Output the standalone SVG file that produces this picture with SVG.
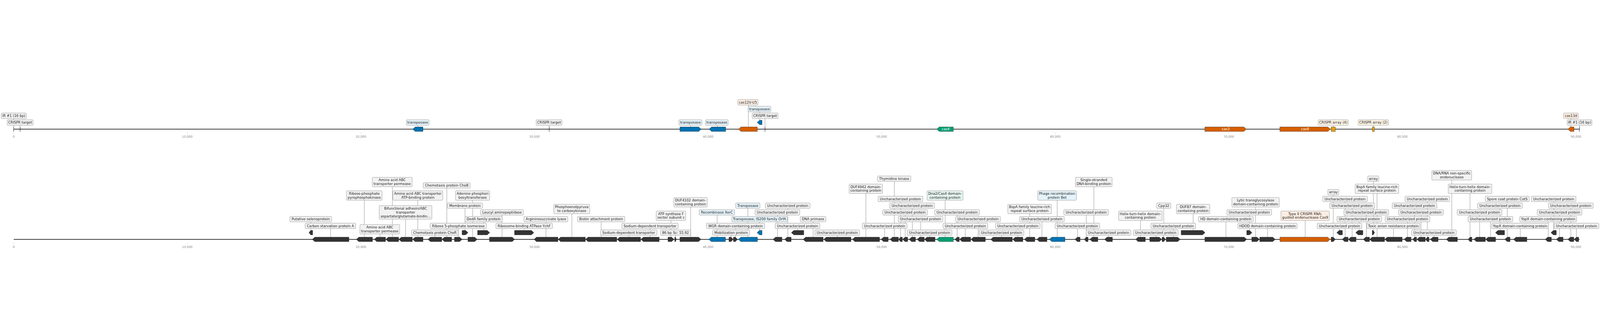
<svg xmlns="http://www.w3.org/2000/svg" width="7126" height="813" viewBox="0 0 7126 813">
<style>
svg:root{width:100vw;height:100vh}
.bg{fill:#ffffff}
.ax{stroke:#000;stroke-width:2.6;fill:none}
.tk{stroke:#999;stroke-width:1}
.tl{font-family:"DejaVu Sans","Liberation Sans",sans-serif;font-size:13.4px;fill:#8a8a8a;text-anchor:middle}
.ld{stroke:#474747;stroke-width:1;fill:none}
.mk{stroke:#000;stroke-width:1.6;fill:none}
.bx{fill:#f2f2f2;stroke:#8c8c8c;stroke-width:1.4;rx:3px;ry:3px}
.bb{fill:#e5f3fa}
.bo{fill:#fdeee3}
.bm{fill:#e6f6f1}
.by{fill:#fdf5e6}
.t{font-family:"DejaVu Sans","Liberation Sans",sans-serif;font-size:15.2px;fill:#1a1a1a;text-anchor:middle}
.tw{font-family:"DejaVu Sans","Liberation Sans",sans-serif;font-size:15.2px;fill:#ffffff;text-anchor:middle}
.gd{fill:#333333;stroke:#111;stroke-width:1}
.gb{fill:#0072b2;stroke:#1a1a1a;stroke-width:1}
.go{fill:#d55e00;stroke:#1a1a1a;stroke-width:1}
.gg{fill:#009e73;stroke:#1a1a1a;stroke-width:1}
.gy{fill:#e69f00;stroke:#1a1a1a;stroke-width:1}
</style>
<rect class="bg" x="0" y="0" width="7126" height="813"/>

<g id="axes">
<line class="ax" x1="61" y1="274" x2="7035" y2="274"/>
<line class="ax" x1="61" y1="764" x2="7035" y2="764"/>
<g id="ticks-top">
<line class="tk" x1="61.1" y1="289" x2="61.1" y2="294"/><text class="tl" x="61.1" y="312">0</text>
<line class="tk" x1="834.2" y1="289" x2="834.2" y2="294"/><text class="tl" x="834.2" y="312">10,000</text>
<line class="tk" x1="1607.3" y1="289" x2="1607.3" y2="294"/><text class="tl" x="1607.3" y="312">20,000</text>
<line class="tk" x1="2380.4" y1="289" x2="2380.4" y2="294"/><text class="tl" x="2380.4" y="312">30,000</text>
<line class="tk" x1="3153.5" y1="289" x2="3153.5" y2="294"/><text class="tl" x="3153.5" y="312">40,000</text>
<line class="tk" x1="3926.6" y1="289" x2="3926.6" y2="294"/><text class="tl" x="3926.6" y="312">50,000</text>
<line class="tk" x1="4699.7" y1="289" x2="4699.7" y2="294"/><text class="tl" x="4699.7" y="312">60,000</text>
<line class="tk" x1="5472.8" y1="289" x2="5472.8" y2="294"/><text class="tl" x="5472.8" y="312">70,000</text>
<line class="tk" x1="6245.9" y1="289" x2="6245.9" y2="294"/><text class="tl" x="6245.9" y="312">80,000</text>
<line class="tk" x1="7019" y1="289" x2="7019" y2="294"/><text class="tl" x="7019" y="312">90,000</text>
</g>
<g id="ticks-bottom">
<line class="tk" x1="61.1" y1="779" x2="61.1" y2="784"/><text class="tl" x="61.1" y="802">0</text>
<line class="tk" x1="834.2" y1="779" x2="834.2" y2="784"/><text class="tl" x="834.2" y="802">10,000</text>
<line class="tk" x1="1607.3" y1="779" x2="1607.3" y2="784"/><text class="tl" x="1607.3" y="802">20,000</text>
<line class="tk" x1="2380.4" y1="779" x2="2380.4" y2="784"/><text class="tl" x="2380.4" y="802">30,000</text>
<line class="tk" x1="3153.5" y1="779" x2="3153.5" y2="784"/><text class="tl" x="3153.5" y="802">40,000</text>
<line class="tk" x1="3926.6" y1="779" x2="3926.6" y2="784"/><text class="tl" x="3926.6" y="802">50,000</text>
<line class="tk" x1="4699.7" y1="779" x2="4699.7" y2="784"/><text class="tl" x="4699.7" y="802">60,000</text>
<line class="tk" x1="5472.8" y1="779" x2="5472.8" y2="784"/><text class="tl" x="5472.8" y="802">70,000</text>
<line class="tk" x1="6245.9" y1="779" x2="6245.9" y2="784"/><text class="tl" x="6245.9" y="802">80,000</text>
<line class="tk" x1="7019" y1="779" x2="7019" y2="784"/><text class="tl" x="7019" y="802">90,000</text>
</g>
</g>

<g id="connectors">
<line class="ld" x1="61" y1="226.5" x2="61" y2="264"/>
<line class="ld" x1="89.5" y1="256.5" x2="89.5" y2="264"/>
<line class="ld" x1="1861" y1="256.5" x2="1861" y2="264"/>
<line class="ld" x1="2446" y1="256.5" x2="2446" y2="264"/>
<line class="ld" x1="3075.5" y1="256.5" x2="3075.5" y2="264"/>
<line class="ld" x1="3195" y1="256.5" x2="3195" y2="264"/>
<line class="ld" x1="3333" y1="166.5" x2="3333" y2="264"/>
<line class="ld" x1="3383.5" y1="196.5" x2="3383.5" y2="234"/>
<line class="ld" x1="3407" y1="226.5" x2="3407" y2="264"/>
<line class="ld" x1="5938" y1="256.5" x2="5938" y2="264"/>
<line class="ld" x1="6116.5" y1="256.5" x2="6116.5" y2="264"/>
<line class="ld" x1="6996.5" y1="226.5" x2="6996.5" y2="264"/>
<line class="ld" x1="7034.5" y1="256.5" x2="7034.5" y2="264"/>
<line class="ld" x1="1384.4" y1="686" x2="1384.4" y2="724"/>
<line class="ld" x1="1472.4" y1="716" x2="1472.4" y2="754"/>
<line class="ld" x1="1622.6" y1="590" x2="1622.6" y2="754"/>
<line class="ld" x1="1692.4" y1="740" x2="1692.4" y2="754"/>
<line class="ld" x1="1747.4" y1="530" x2="1747.4" y2="754"/>
<line class="ld" x1="1806.3" y1="674" x2="1806.3" y2="754"/>
<line class="ld" x1="1860.8" y1="590" x2="1860.8" y2="754"/>
<line class="ld" x1="1937" y1="746" x2="1937" y2="754"/>
<line class="ld" x1="1990" y1="536" x2="1990" y2="754"/>
<line class="ld" x1="2041.5" y1="716" x2="2041.5" y2="754"/>
<line class="ld" x1="2071" y1="626" x2="2071" y2="724"/>
<line class="ld" x1="2105" y1="590" x2="2105" y2="754"/>
<line class="ld" x1="2154.5" y1="686" x2="2154.5" y2="724"/>
<line class="ld" x1="2236" y1="656" x2="2236" y2="754"/>
<line class="ld" x1="2334.5" y1="716" x2="2334.5" y2="724"/>
<line class="ld" x1="2431.5" y1="686" x2="2431.5" y2="754"/>
<line class="ld" x1="2547" y1="650" x2="2547" y2="754"/>
<line class="ld" x1="2677.5" y1="686" x2="2677.5" y2="754"/>
<line class="ld" x1="2801" y1="746" x2="2801" y2="754"/>
<line class="ld" x1="2895.5" y1="716" x2="2895.5" y2="754"/>
<line class="ld" x1="2988.5" y1="680" x2="2988.5" y2="754"/>
<line class="ld" x1="3009" y1="746" x2="3009" y2="754"/>
<line class="ld" x1="3076" y1="620" x2="3076" y2="754"/>
<line class="ld" x1="3194" y1="656" x2="3194" y2="754"/>
<line class="ld" x1="3256" y1="746" x2="3256" y2="754"/>
<line class="ld" x1="3276" y1="716" x2="3276" y2="754"/>
<line class="ld" x1="3331" y1="626" x2="3331" y2="754"/>
<line class="ld" x1="3383" y1="686" x2="3383" y2="724"/>
<line class="ld" x1="3463" y1="656" x2="3463" y2="754"/>
<line class="ld" x1="3509" y1="626" x2="3509" y2="754"/>
<line class="ld" x1="3552" y1="716" x2="3552" y2="724"/>
<line class="ld" x1="3621.5" y1="686" x2="3621.5" y2="754"/>
<line class="ld" x1="3729.5" y1="746" x2="3729.5" y2="754"/>
<line class="ld" x1="3856.5" y1="560" x2="3856.5" y2="754"/>
<line class="ld" x1="3940" y1="716" x2="3940" y2="754"/>
<line class="ld" x1="3983" y1="506" x2="3983" y2="754"/>
<line class="ld" x1="4011" y1="596" x2="4011" y2="754"/>
<line class="ld" x1="4031.5" y1="656" x2="4031.5" y2="754"/>
<line class="ld" x1="4063.5" y1="626" x2="4063.5" y2="754"/>
<line class="ld" x1="4100.5" y1="686" x2="4100.5" y2="754"/>
<line class="ld" x1="4141" y1="746" x2="4141" y2="754"/>
<line class="ld" x1="4209.5" y1="590" x2="4209.5" y2="754"/>
<line class="ld" x1="4263" y1="656" x2="4263" y2="754"/>
<line class="ld" x1="4299" y1="716" x2="4299" y2="754"/>
<line class="ld" x1="4356.5" y1="686" x2="4356.5" y2="754"/>
<line class="ld" x1="4460.5" y1="746" x2="4460.5" y2="754"/>
<line class="ld" x1="4533" y1="716" x2="4533" y2="754"/>
<line class="ld" x1="4586" y1="650" x2="4586" y2="754"/>
<line class="ld" x1="4640.5" y1="686" x2="4640.5" y2="754"/>
<line class="ld" x1="4708.5" y1="590" x2="4708.5" y2="754"/>
<line class="ld" x1="4799" y1="716" x2="4799" y2="754"/>
<line class="ld" x1="4838" y1="656" x2="4838" y2="754"/>
<line class="ld" x1="4872" y1="530" x2="4872" y2="754"/>
<line class="ld" x1="4937" y1="746" x2="4937" y2="754"/>
<line class="ld" x1="5079.5" y1="680" x2="5079.5" y2="754"/>
<line class="ld" x1="5148" y1="746" x2="5148" y2="754"/>
<line class="ld" x1="5183" y1="626" x2="5183" y2="754"/>
<line class="ld" x1="5226" y1="716" x2="5226" y2="754"/>
<line class="ld" x1="5314" y1="650" x2="5314" y2="724"/>
<line class="ld" x1="5460" y1="686" x2="5460" y2="754"/>
<line class="ld" x1="5564.5" y1="656" x2="5564.5" y2="724"/>
<line class="ld" x1="5592" y1="620" x2="5592" y2="754"/>
<line class="ld" x1="5645.5" y1="716" x2="5645.5" y2="754"/>
<line class="ld" x1="5813" y1="680" x2="5813" y2="754"/>
<line class="ld" x1="5938" y1="566" x2="5938" y2="754"/>
<line class="ld" x1="5966" y1="716" x2="5966" y2="724"/>
<line class="ld" x1="5991" y1="596" x2="5991" y2="754"/>
<line class="ld" x1="6022" y1="626" x2="6022" y2="754"/>
<line class="ld" x1="6054.5" y1="686" x2="6054.5" y2="724"/>
<line class="ld" x1="6085.5" y1="656" x2="6085.5" y2="754"/>
<line class="ld" x1="6117" y1="506" x2="6117" y2="724"/>
<line class="ld" x1="6133" y1="560" x2="6133" y2="754"/>
<line class="ld" x1="6206" y1="716" x2="6206" y2="754"/>
<line class="ld" x1="6269" y1="686" x2="6269" y2="754"/>
<line class="ld" x1="6300.5" y1="626" x2="6300.5" y2="754"/>
<line class="ld" x1="6329" y1="656" x2="6329" y2="754"/>
<line class="ld" x1="6357" y1="596" x2="6357" y2="754"/>
<line class="ld" x1="6387.5" y1="746" x2="6387.5" y2="754"/>
<line class="ld" x1="6466" y1="500" x2="6466" y2="754"/>
<line class="ld" x1="6547" y1="560" x2="6547" y2="754"/>
<line class="ld" x1="6590" y1="656" x2="6590" y2="754"/>
<line class="ld" x1="6638.5" y1="686" x2="6638.5" y2="754"/>
<line class="ld" x1="6681" y1="626" x2="6681" y2="724"/>
<line class="ld" x1="6713" y1="596" x2="6713" y2="754"/>
<line class="ld" x1="6771" y1="716" x2="6771" y2="754"/>
<line class="ld" x1="6895.5" y1="686" x2="6895.5" y2="754"/>
<line class="ld" x1="6920" y1="596" x2="6920" y2="724"/>
<line class="ld" x1="6946" y1="656" x2="6946" y2="754"/>
<line class="ld" x1="6996" y1="626" x2="6996" y2="754"/>
<line class="ld" x1="7021" y1="716" x2="7021" y2="754"/>
</g>

<g id="top-ir-1"><line class="mk" x1="61" y1="263" x2="61" y2="285"/><rect class="bx" x="5.7" y="202" width="111.3" height="24.5"/><text class="t" x="61.3" y="219.5">IR #1 (16 bp)</text></g>
<g id="top-crispr-target-1"><line class="mk" x1="89.5" y1="263" x2="89.5" y2="285"/><rect class="bx" x="32" y="232" width="115" height="24.5"/><text class="t" x="89.5" y="249.5">CRISPR target</text></g>
<g id="top-transposase-1"><polygon class="gb" points="1838,274 1849,264 1884,264 1884,284 1849,284"/><rect class="bx bb" x="1810" y="232" width="101" height="24.5"/><text class="t" x="1860.5" y="249.5">transposase</text></g>
<g id="top-crispr-target-2"><line class="mk" x1="2446" y1="263" x2="2446" y2="285"/><rect class="bx" x="2388" y="232" width="115" height="24.5"/><text class="t" x="2445.5" y="249.5">CRISPR target</text></g>
<g id="top-transposase-2"><polygon class="gb" points="3028,264 3112,264 3123,274 3112,284 3028,284"/><rect class="bx bb" x="3024" y="232" width="102" height="24.5"/><text class="t" x="3075" y="249.5">transposase</text></g>
<g id="top-transposase-3"><polygon class="gb" points="3158,274 3169,264 3232,264 3232,284 3169,284"/><rect class="bx bb" x="3142" y="232" width="101" height="24.5"/><text class="t" x="3192.5" y="249.5">transposase</text></g>
<g id="top-cas12v-u5"><polygon class="go" points="3289,274 3300,264 3373,264 3373,284 3300,284"/><rect class="bx bo" x="3286" y="142" width="90" height="24.5"/><text class="t" x="3331" y="159.5">cas12V-U5</text></g>
<g id="top-transposase-4"><polygon class="gb" points="3372,244 3383,234 3394,234 3394,254 3383,254"/><rect class="bx bb" x="3332" y="172" width="101" height="24.5"/><text class="t" x="3382.5" y="189.5">transposase</text></g>
<g id="top-crispr-target-3"><line class="mk" x1="3407" y1="263" x2="3407" y2="285"/><rect class="bx" x="3350" y="202" width="115" height="24.5"/><text class="t" x="3407.5" y="219.5">CRISPR target</text></g>
<g id="top-cas4"><polygon class="gg" points="4172,274 4183,264 4246,264 4246,284 4183,284"/><text class="tw" x="4212" y="279.5">cas4</text></g>
<g id="top-cas3"><polygon class="go" points="5366,264 5540,264 5551,274 5540,284 5366,284"/><text class="tw" x="5459" y="279.5">cas3</text></g>
<g id="top-cas9"><polygon class="go" points="5700,264 5914,264 5925,274 5914,284 5700,284"/><text class="tw" x="5812.5" y="279.5">cas9</text></g>
<g id="top-crispr-array-4"><rect class="gy" x="5929" y="264" width="18" height="20"/><rect class="bx by" x="5871" y="232" width="134" height="24.5"/><text class="t" x="5938" y="249.5">CRISPR array (4)</text></g>
<g id="top-crispr-array-2"><rect class="gy" x="6112" y="264" width="9" height="20"/><rect class="bx by" x="6049" y="232" width="135" height="24.5"/><text class="t" x="6116.5" y="249.5">CRISPR array (2)</text></g>
<g id="top-cas13d"><polygon class="go" points="6983,274 6994,264 7010,264 7010,284 6994,284"/><rect class="bx bo" x="6964" y="202" width="65" height="24.5"/><text class="t" x="6996.5" y="219.5">cas13d</text></g>
<g id="top-ir-2"><line class="mk" x1="7034.5" y1="263" x2="7034.5" y2="285"/><rect class="bx" x="6980" y="232" width="110" height="24.5"/><text class="t" x="7035" y="249.5">IR #1 (16 bp)</text></g>

<g id="b-selenoprotein"><polygon class="gd" points="1376,734 1384,724 1392.5,724 1392.5,744 1384,744"/><rect class="bx" x="1291" y="662" width="186" height="24"/><text class="t" x="1384" y="679.5">Putative selenoprotein</text></g>
<g id="b-carbon-starvation"><polygon class="gd" points="1391,764 1402,754 1554,754 1554,774 1402,774"/><rect class="bx" x="1359" y="692" width="225.3" height="24"/><text class="t" x="1471.7" y="709.5">Carbon starvation protein A</text></g>
<g id="b-ribose-phosphate-ppk"><polygon class="gd" points="1587,764 1598,754 1659,754 1659,774 1598,774"/><rect class="bx" x="1543" y="548" width="158.5" height="42"/><text class="t" x="1622.3" y="565.5">Ribose-phosphate</text><text class="t" x="1622.3" y="582.5">pyrophosphokinase</text></g>
<g id="b-aa-permease-1"><polygon class="gd" points="1667,764 1678,754 1717,754 1717,774 1678,774"/><rect class="bx" x="1603" y="698" width="177" height="42"/><text class="t" x="1691.5" y="715.5">Amino acid ABC</text><text class="t" x="1691.5" y="732.5">transporter permease</text></g>
<g id="b-aa-permease-2"><polygon class="gd" points="1718.5,764 1729.5,754 1775.5,754 1775.5,774 1729.5,774"/><rect class="bx" x="1658" y="488" width="177.5" height="42"/><text class="t" x="1746.7" y="505.5">Amino acid ABC</text><text class="t" x="1746.7" y="522.5">transporter permease</text></g>
<g id="b-bifunctional"><polygon class="gd" points="1776.5,764 1787.5,754 1836.5,754 1836.5,774 1787.5,774"/><rect class="bx" x="1689" y="614" width="234.5" height="60"/><text class="t" x="1806.3" y="631.5">Bifunctional adhesin/ABC</text><text class="t" x="1806.3" y="649">transporter</text><text class="t" x="1806.3" y="666.5">aspartate/glutamate-bindin...</text></g>
<g id="b-aa-atp-binding"><polygon class="gd" points="1838,764 1849,754 1884,754 1884,774 1849,774"/><rect class="bx" x="1750" y="548" width="222" height="42"/><text class="t" x="1861" y="565.5">Amino acid ABC transporter</text><text class="t" x="1861" y="582.5">ATP-binding protein</text></g>
<g id="b-cher"><polygon class="gd" points="1906,764 1917,754 1967.5,754 1967.5,774 1917,774"/><rect class="bx" x="1832.5" y="722" width="208.5" height="24"/><text class="t" x="1936.8" y="739.5">Chemotaxis protein CheR</text></g>
<g id="b-cheb"><polygon class="gd" points="1968.5,764 1979.5,754 2011.5,754 2011.5,774 1979.5,774"/><rect class="bx" x="1885" y="512" width="209" height="24"/><text class="t" x="1989.5" y="529.5">Chemotaxis protein CheB</text></g>
<g id="b-ribose5p"><polygon class="gd" points="2024,754 2047,754 2058,764 2047,774 2024,774"/><rect class="bx" x="1916" y="692" width="250.5" height="24"/><text class="t" x="2041.3" y="709.5">Ribose 5-phosphate isomerase</text></g>
<g id="b-membrane"><polygon class="gd" points="2058,724 2073.5,724 2084.5,734 2073.5,744 2058,744"/><rect class="bx" x="1992.5" y="602" width="156.5" height="24"/><text class="t" x="2070.8" y="619.5">Membrane protein</text></g>
<g id="b-adenine"><polygon class="gd" points="2084,754 2114,754 2125,764 2114,774 2084,774"/><rect class="bx" x="2028.5" y="548" width="152.5" height="42"/><text class="t" x="2104.8" y="565.5">Adenine phosphori</text><text class="t" x="2104.8" y="582.5">bosyltransferase</text></g>
<g id="b-deda"><polygon class="gd" points="2127,724 2170,724 2181,734 2170,744 2127,744"/><rect class="bx" x="2071" y="662" width="166" height="24"/><text class="t" x="2154" y="679.5">DedA family protein</text></g>
<g id="b-leucyl"><polygon class="gd" points="2180,754 2281,754 2292,764 2281,774 2180,774"/><rect class="bx" x="2140.5" y="632" width="191" height="24"/><text class="t" x="2236" y="649.5">Leucyl aminopeptidase</text></g>
<g id="b-ychf"><polygon class="gd" points="2291.5,724 2366.5,724 2377.5,734 2366.5,744 2291.5,744"/><rect class="bx" x="2208.5" y="692" width="252" height="24"/><text class="t" x="2334.5" y="709.5">Ribosome-binding ATPase YchF</text></g>
<g id="b-argininosuccinate"><polygon class="gd" points="2378.5,764 2389.5,754 2485,754 2485,774 2389.5,774"/><rect class="bx" x="2333.5" y="662" width="195.5" height="24"/><text class="t" x="2431.3" y="679.5">Argininosuccinate lyase</text></g>
<g id="b-pepck"><polygon class="gd" points="2486,764 2497,754 2607,754 2607,774 2497,774"/><rect class="bx" x="2466.5" y="608" width="160" height="42"/><text class="t" x="2546.5" y="625.5">Phosphoenolpyruva</text><text class="t" x="2546.5" y="642.5">te carboxykinase</text></g>
<g id="b-biotin"><polygon class="gd" points="2608,764 2619,754 2747,754 2747,774 2619,774"/><rect class="bx" x="2572" y="662" width="210.5" height="24"/><text class="t" x="2677.3" y="679.5">Biotin attachment protein</text></g>
<g id="b-sodium-1"><polygon class="gd" points="2748.5,764 2759.5,754 2853,754 2853,774 2759.5,774"/><rect class="bx" x="2674.5" y="722" width="251.5" height="24"/><text class="t" x="2800.3" y="739.5">Sodium-dependent transporter</text></g>
<g id="b-sodium-2"><polygon class="gd" points="2854.5,764 2865.5,754 2936,754 2936,774 2865.5,774"/><rect class="bx" x="2769.5" y="692" width="251" height="24"/><text class="t" x="2895" y="709.5">Sodium-dependent transporter</text></g>
<g id="b-atp-synthase"><polygon class="gd" points="2975,754 2991,754 3002,764 2991,774 2975,774"/><rect class="bx" x="2922.5" y="638" width="131.5" height="42"/><text class="t" x="2988.3" y="655.5">ATP synthase F</text><text class="t" x="2988.3" y="672.5">sector subunit c</text></g>
<g id="b-86bp"><polygon class="gd" points="3005,754 3008.5,754 3012.5,764 3008.5,774 3005,774"/><rect class="bx" x="2941.5" y="722" width="134" height="24"/><text class="t" x="3008.5" y="739.5">86 bp Sc: 55.92</text></g>
<g id="b-duf4102"><polygon class="gd" points="3028,754 3111,754 3122,764 3111,774 3028,774"/><rect class="bx" x="3001" y="578" width="149" height="42"/><text class="t" x="3075.5" y="595.5">DUF4102 domain-</text><text class="t" x="3075.5" y="612.5">containing protein</text></g>
<g id="b-xerc"><polygon class="gb" points="3157,764 3168,754 3231,754 3231,774 3168,774"/><rect class="bx bb" x="3114" y="632" width="158" height="24"/><text class="t" x="3193" y="649.5">Recombinase XerC</text></g>
<g id="b-mobilization"><polygon class="gd" points="3246.5,754 3256,754 3265.5,764 3256,774 3246.5,774"/><rect class="bx" x="3174" y="722" width="164.5" height="24"/><text class="t" x="3256.3" y="739.5">Mobilization protein</text></g>
<g id="b-wgr"><polygon class="gd" points="3266.5,754 3275.5,754 3284.5,764 3275.5,774 3266.5,774"/><rect class="bx" x="3146.5" y="692" width="259" height="24"/><text class="t" x="3276" y="709.5">WGR domain-containing protein</text></g>
<g id="b-transposase"><polygon class="gb" points="3288.5,764 3299.5,754 3373.5,754 3373.5,774 3299.5,774"/><rect class="bx bb" x="3276.5" y="602" width="108" height="24"/><text class="t" x="3330.5" y="619.5">Transposase</text></g>
<g id="b-is200"><polygon class="gb" points="3371.5,734 3382.5,724 3394,724 3394,744 3382.5,744"/><rect class="bx bb" x="3259" y="662" width="247" height="24"/><text class="t" x="3382.5" y="679.5">Transposase, IS200 family OrfA</text></g>
<g id="b-unch-01"><polygon class="gd" points="3443,764 3454,754 3482.5,754 3482.5,774 3454,774"/><rect class="bx" x="3363" y="632" width="199" height="24"/><text class="t" x="3462.5" y="649.5">Uncharacterized protein</text></g>
<g id="b-unch-02"><polygon class="gd" points="3494.5,764 3505.5,754 3523.5,754 3523.5,774 3505.5,774"/><rect class="bx" x="3409" y="602" width="199" height="24"/><text class="t" x="3508.5" y="619.5">Uncharacterized protein</text></g>
<g id="b-unch-03"><polygon class="gd" points="3524.5,734 3535.5,724 3580,724 3580,744 3535.5,744"/><rect class="bx" x="3452.5" y="692" width="199" height="24"/><text class="t" x="3552" y="709.5">Uncharacterized protein</text></g>
<g id="b-dna-primase"><polygon class="gd" points="3577,764 3588,754 3666,754 3666,774 3588,774"/><rect class="bx" x="3564" y="662" width="114" height="24"/><text class="t" x="3621" y="679.5">DNA primase</text></g>
<g id="b-unch-04"><polygon class="gd" points="3669,764 3680,754 3790,754 3790,774 3680,774"/><rect class="bx" x="3629.5" y="722" width="199" height="24"/><text class="t" x="3729" y="739.5">Uncharacterized protein</text></g>
<g id="b-duf4942"><polygon class="gd" points="3796.5,764 3807.5,754 3917.5,754 3917.5,774 3807.5,774"/><rect class="bx" x="3782" y="518" width="148.5" height="42"/><text class="t" x="3856.3" y="535.5">DUF4942 domain-</text><text class="t" x="3856.3" y="552.5">containing protein</text></g>
<g id="b-unch-05"><polygon class="gd" points="3924,764 3935,754 3956,754 3956,774 3935,774"/><rect class="bx" x="3840.5" y="692" width="199" height="24"/><text class="t" x="3940" y="709.5">Uncharacterized protein</text></g>
<g id="b-thymidine-kinase"><polygon class="gd" points="3964,764 3975,754 4001.5,754 4001.5,774 3975,774"/><rect class="bx" x="3908" y="482" width="148.5" height="24"/><text class="t" x="3982.3" y="499.5">Thymidine kinase</text></g>
<g id="b-unch-06"><polygon class="gd" points="4002.5,764 4010.5,754 4019,754 4019,774 4010.5,774"/><rect class="bx" x="3911" y="572" width="199" height="24"/><text class="t" x="4010.5" y="589.5">Uncharacterized protein</text></g>
<g id="b-unch-07"><polygon class="gd" points="4020,764 4031,754 4042.5,754 4042.5,774 4031,774"/><rect class="bx" x="3931.5" y="632" width="199" height="24"/><text class="t" x="4031" y="649.5">Uncharacterized protein</text></g>
<g id="b-unch-08"><polygon class="gd" points="4049,764 4060,754 4077.5,754 4077.5,774 4060,774"/><rect class="bx" x="3963" y="602" width="199" height="24"/><text class="t" x="4062.5" y="619.5">Uncharacterized protein</text></g>
<g id="b-unch-09"><polygon class="gd" points="4084.5,764 4095.5,754 4116.5,754 4116.5,774 4095.5,774"/><rect class="bx" x="4000.5" y="662" width="199" height="24"/><text class="t" x="4100" y="679.5">Uncharacterized protein</text></g>
<g id="b-unch-10"><polygon class="gd" points="4117.5,764 4128.5,754 4164.5,754 4164.5,774 4128.5,774"/><rect class="bx" x="4041" y="722" width="199" height="24"/><text class="t" x="4140.5" y="739.5">Uncharacterized protein</text></g>
<g id="b-dna2-cas4"><polygon class="gg" points="4172,764 4183,754 4246,754 4246,774 4183,774"/><rect class="bx bm" x="4129" y="548" width="160" height="42"/><text class="t" x="4209" y="565.5">Dna2/Cas4 domain-</text><text class="t" x="4209" y="582.5">containing protein</text></g>
<g id="b-unch-11"><polygon class="gd" points="4253,764 4263,754 4272.5,754 4272.5,774 4263,774"/><rect class="bx" x="4163" y="632" width="199" height="24"/><text class="t" x="4262.5" y="649.5">Uncharacterized protein</text></g>
<g id="b-unch-12"><polygon class="gd" points="4274,764 4285,754 4323,754 4323,774 4285,774"/><rect class="bx" x="4200" y="692" width="199" height="24"/><text class="t" x="4299.5" y="709.5">Uncharacterized protein</text></g>
<g id="b-unch-13"><polygon class="gd" points="4324.5,764 4335.5,754 4388.5,754 4388.5,774 4335.5,774"/><rect class="bx" x="4256.5" y="662" width="199" height="24"/><text class="t" x="4356" y="679.5">Uncharacterized protein</text></g>
<g id="b-unch-14"><polygon class="gd" points="4412.5,764 4423.5,754 4508.5,754 4508.5,774 4423.5,774"/><rect class="bx" x="4361" y="722" width="199" height="24"/><text class="t" x="4460.5" y="739.5">Uncharacterized protein</text></g>
<g id="b-unch-15"><polygon class="gd" points="4510.5,764 4521.5,754 4555.5,754 4555.5,774 4521.5,774"/><rect class="bx" x="4433.5" y="692" width="199" height="24"/><text class="t" x="4533" y="709.5">Uncharacterized protein</text></g>
<g id="b-bspa-1"><polygon class="gd" points="4562.5,764 4573.5,754 4609,754 4609,774 4573.5,774"/><rect class="bx" x="4488.5" y="608" width="194" height="42"/><text class="t" x="4585.5" y="625.5">BspA family leucine-rich</text><text class="t" x="4585.5" y="642.5">repeat surface protein</text></g>
<g id="b-unch-16"><polygon class="gd" points="4618,764 4629,754 4663,754 4663,774 4629,774"/><rect class="bx" x="4541" y="662" width="199" height="24"/><text class="t" x="4640.5" y="679.5">Uncharacterized protein</text></g>
<g id="b-phage-bet"><polygon class="gb" points="4673.5,764 4684.5,754 4743,754 4743,774 4684.5,774"/><rect class="bx bb" x="4622" y="548" width="172" height="42"/><text class="t" x="4708" y="565.5">Phage recombination</text><text class="t" x="4708" y="582.5">protein Bet</text></g>
<g id="b-unch-17"><polygon class="gd" points="4787.5,764 4798.5,754 4810.5,754 4810.5,774 4798.5,774"/><rect class="bx" x="4699" y="692" width="199" height="24"/><text class="t" x="4798.5" y="709.5">Uncharacterized protein</text></g>
<g id="b-unch-18"><polygon class="gd" points="4829.5,764 4837.5,754 4846,754 4846,774 4837.5,774"/><rect class="bx" x="4738" y="632" width="199" height="24"/><text class="t" x="4837.5" y="649.5">Uncharacterized protein</text></g>
<g id="b-ssb"><polygon class="gd" points="4854,764 4865,754 4889.5,754 4889.5,774 4865,774"/><rect class="bx" x="4790" y="488" width="163" height="42"/><text class="t" x="4871.5" y="505.5">Single-stranded</text><text class="t" x="4871.5" y="522.5">DNA-binding protein</text></g>
<g id="b-unch-19"><polygon class="gd" points="4919.5,764 4930.5,754 4954.5,754 4954.5,774 4930.5,774"/><rect class="bx" x="4837.5" y="722" width="199" height="24"/><text class="t" x="4937" y="739.5">Uncharacterized protein</text></g>
<g id="b-hth-1"><polygon class="gd" points="5058,764 5069,754 5101,754 5101,774 5069,774"/><rect class="bx" x="4982" y="638" width="194" height="42"/><text class="t" x="5079" y="655.5">Helix-turn-helix domain-</text><text class="t" x="5079" y="672.5">containing protein</text></g>
<g id="b-unch-20"><polygon class="gd" points="5120.5,754 5163,754 5174,764 5163,774 5120.5,774"/><rect class="bx" x="5048" y="722" width="199" height="24"/><text class="t" x="5147.5" y="739.5">Uncharacterized protein</text></g>
<g id="b-cpp32"><polygon class="gd" points="5175.5,754 5183,754 5191,764 5183,774 5175.5,774"/><rect class="bx" x="5151.5" y="602" width="63" height="24"/><text class="t" x="5183" y="619.5">Cpp32</text></g>
<g id="b-unch-21"><polygon class="gd" points="5194,754 5245,754 5256,764 5245,774 5194,774"/><rect class="bx" x="5126" y="692" width="199" height="24"/><text class="t" x="5225.5" y="709.5">Uncharacterized protein</text></g>
<g id="b-duf87"><polygon class="gd" points="5260.5,724 5356,724 5367,734 5356,744 5260.5,744"/><rect class="bx" x="5239.5" y="608" width="148.5" height="42"/><text class="t" x="5313.8" y="625.5">DUF87 domain-</text><text class="t" x="5313.8" y="642.5">containing protein</text></g>
<g id="b-hd-domain"><polygon class="gd" points="5366,754 5541.5,754 5552.5,764 5541.5,774 5366,774"/><rect class="bx" x="5337.5" y="662" width="244" height="24"/><text class="t" x="5459.5" y="679.5">HD domain-containing protein</text></g>
<g id="b-unch-22"><polygon class="gd" points="5552.5,724 5565,724 5576,734 5565,744 5552.5,744"/><rect class="bx" x="5464.5" y="632" width="199" height="24"/><text class="t" x="5564" y="649.5">Uncharacterized protein</text></g>
<g id="b-lytic"><polygon class="gd" points="5575,754 5598,754 5609,764 5598,774 5575,774"/><rect class="bx" x="5486.5" y="578" width="211" height="42"/><text class="t" x="5592" y="595.5">Lytic transglycosylase</text><text class="t" x="5592" y="612.5">domain-containing protein</text></g>
<g id="b-hdod"><polygon class="gd" points="5610.5,754 5668.5,754 5679.5,764 5668.5,774 5610.5,774"/><rect class="bx" x="5513.5" y="692" width="263.5" height="24"/><text class="t" x="5645.3" y="709.5">HDOD domain-containing protein</text></g>
<g id="b-cas9"><polygon class="go" points="5700.5,754 5913,754 5924,764 5913,774 5700.5,774"/><rect class="bx bo" x="5705" y="638" width="215.5" height="42"/><text class="t" x="5812.8" y="655.5">Type II CRISPR RNA-</text><text class="t" x="5812.8" y="672.5">guided endonuclease Cas9</text></g>
<g id="b-array-1"><polygon class="gd" points="5928.5,754 5938,754 5947,764 5938,774 5928.5,774"/><rect class="bx" x="5913.5" y="542" width="49.5" height="24"/><text class="t" x="5938.3" y="559.5">array</text></g>
<g id="b-unch-23"><polygon class="gd" points="5953.5,734 5964.5,724 5979,724 5979,744 5964.5,744"/><rect class="bx" x="5866.5" y="692" width="199" height="24"/><text class="t" x="5966" y="709.5">Uncharacterized protein</text></g>
<g id="b-unch-24"><polygon class="gd" points="5978,764 5989,754 6004,754 6004,774 5989,774"/><rect class="bx" x="5891" y="572" width="199" height="24"/><text class="t" x="5990.5" y="589.5">Uncharacterized protein</text></g>
<g id="b-unch-25"><polygon class="gd" points="6005,764 6016,754 6039.5,754 6039.5,774 6016,774"/><rect class="bx" x="5922.5" y="602" width="199" height="24"/><text class="t" x="6022" y="619.5">Uncharacterized protein</text></g>
<g id="b-unch-26"><polygon class="gd" points="6038,734 6049,724 6070,724 6070,744 6049,744"/><rect class="bx" x="5954.5" y="662" width="199" height="24"/><text class="t" x="6054" y="679.5">Uncharacterized protein</text></g>
<g id="b-unch-27"><polygon class="gd" points="6071.5,764 6082.5,754 6099.5,754 6099.5,774 6082.5,774"/><rect class="bx" x="5985.5" y="632" width="199" height="24"/><text class="t" x="6085" y="649.5">Uncharacterized protein</text></g>
<g id="b-array-2"><polygon class="gd" points="6111.5,724 6116,724 6122,734 6116,744 6111.5,744"/><rect class="bx" x="6091.5" y="482" width="49.5" height="24"/><text class="t" x="6116.3" y="499.5">array</text></g>
<g id="b-bspa-2"><polygon class="gd" points="6100,764 6111,754 6166.5,754 6166.5,774 6111,774"/><rect class="bx" x="6035.5" y="518" width="194" height="42"/><text class="t" x="6132.5" y="535.5">BspA family leucine-rich</text><text class="t" x="6132.5" y="552.5">repeat surface protein</text></g>
<g id="b-toxic-anion"><polygon class="gd" points="6167.5,764 6178.5,754 6245,754 6245,774 6178.5,774"/><rect class="bx" x="6087.5" y="692" width="236.5" height="24"/><text class="t" x="6205.8" y="709.5">Toxic anion resistance protein</text></g>
<g id="b-unch-28"><polygon class="gd" points="6253.5,764 6264.5,754 6284.5,754 6284.5,774 6264.5,774"/><rect class="bx" x="6169" y="662" width="199" height="24"/><text class="t" x="6268.5" y="679.5">Uncharacterized protein</text></g>
<g id="b-unch-29"><polygon class="gd" points="6292,764 6300.5,754 6309,754 6309,774 6300.5,774"/><rect class="bx" x="6200.5" y="602" width="199" height="24"/><text class="t" x="6300" y="619.5">Uncharacterized protein</text></g>
<g id="b-unch-30"><polygon class="gd" points="6310.5,764 6321.5,754 6348,754 6348,774 6321.5,774"/><rect class="bx" x="6229.5" y="632" width="199" height="24"/><text class="t" x="6329" y="649.5">Uncharacterized protein</text></g>
<g id="b-unch-31"><polygon class="gd" points="6349,764 6357,754 6364.5,754 6364.5,774 6357,774"/><rect class="bx" x="6257.5" y="572" width="199" height="24"/><text class="t" x="6357" y="589.5">Uncharacterized protein</text></g>
<g id="b-unch-32"><polygon class="gd" points="6370,764 6381,754 6405,754 6405,774 6381,774"/><rect class="bx" x="6287" y="722" width="199" height="24"/><text class="t" x="6386.5" y="739.5">Uncharacterized protein</text></g>
<g id="b-dna-rna-endonuclease"><polygon class="gd" points="6441.5,764 6452.5,754 6491,754 6491,774 6452.5,774"/><rect class="bx" x="6377" y="458" width="177.5" height="42"/><text class="t" x="6465.8" y="475.5">DNA/RNA non-specific</text><text class="t" x="6465.8" y="492.5">endonuclease</text></g>
<g id="b-hth-2"><polygon class="gd" points="6538.5,764 6547,754 6555.5,754 6555.5,774 6547,774"/><rect class="bx" x="6450" y="518" width="194" height="42"/><text class="t" x="6547" y="535.5">Helix-turn-helix domain-</text><text class="t" x="6547" y="552.5">containing protein</text></g>
<g id="b-unch-33"><polygon class="gd" points="6564.5,764 6575.5,754 6615.5,754 6615.5,774 6575.5,774"/><rect class="bx" x="6490" y="632" width="199" height="24"/><text class="t" x="6589.5" y="649.5">Uncharacterized protein</text></g>
<g id="b-unch-34"><polygon class="gd" points="6616.5,764 6627.5,754 6661,754 6661,774 6627.5,774"/><rect class="bx" x="6538.5" y="662" width="199" height="24"/><text class="t" x="6638" y="679.5">Uncharacterized protein</text></g>
<g id="b-unch-35"><polygon class="gd" points="6660.5,734 6671.5,724 6701,724 6701,744 6671.5,744"/><rect class="bx" x="6581" y="602" width="199" height="24"/><text class="t" x="6680.5" y="619.5">Uncharacterized protein</text></g>
<g id="b-spore-coat"><polygon class="gd" points="6702,764 6713,754 6725.5,754 6725.5,774 6713,774"/><rect class="bx" x="6615" y="572" width="196" height="24"/><text class="t" x="6713" y="589.5">Spore coat protein CotS</text></g>
<g id="b-yopx-1"><polygon class="gd" points="6741,764 6752,754 6800.5,754 6800.5,774 6752,774"/><rect class="bx" x="6644" y="692" width="253" height="24"/><text class="t" x="6770.5" y="709.5">YopX domain-containing protein</text></g>
<g id="b-yopx-2"><polygon class="gd" points="6882,764 6893,754 6909.5,754 6909.5,774 6893,774"/><rect class="bx" x="6768.5" y="662" width="253.5" height="24"/><text class="t" x="6895.3" y="679.5">YopX domain-containing protein</text></g>
<g id="b-unch-36"><polygon class="gd" points="6907.5,734 6918.5,724 6931.5,724 6931.5,744 6918.5,744"/><rect class="bx" x="6820" y="572" width="199" height="24"/><text class="t" x="6919.5" y="589.5">Uncharacterized protein</text></g>
<g id="b-unch-37"><polygon class="gd" points="6931.5,764 6942.5,754 6961.5,754 6961.5,774 6942.5,774"/><rect class="bx" x="6846.5" y="632" width="199" height="24"/><text class="t" x="6946" y="649.5">Uncharacterized protein</text></g>
<g id="b-unch-38"><polygon class="gd" points="6983,764 6994,754 7009.5,754 7009.5,774 6994,774"/><rect class="bx" x="6896.5" y="602" width="199" height="24"/><text class="t" x="6996" y="619.5">Uncharacterized protein</text></g>
<g id="b-unch-39"><polygon class="gd" points="7011,764 7021,754 7031,754 7031,774 7021,774"/><rect class="bx" x="6922" y="692" width="199" height="24"/><text class="t" x="7021.5" y="709.5">Uncharacterized protein</text></g>
</svg>
